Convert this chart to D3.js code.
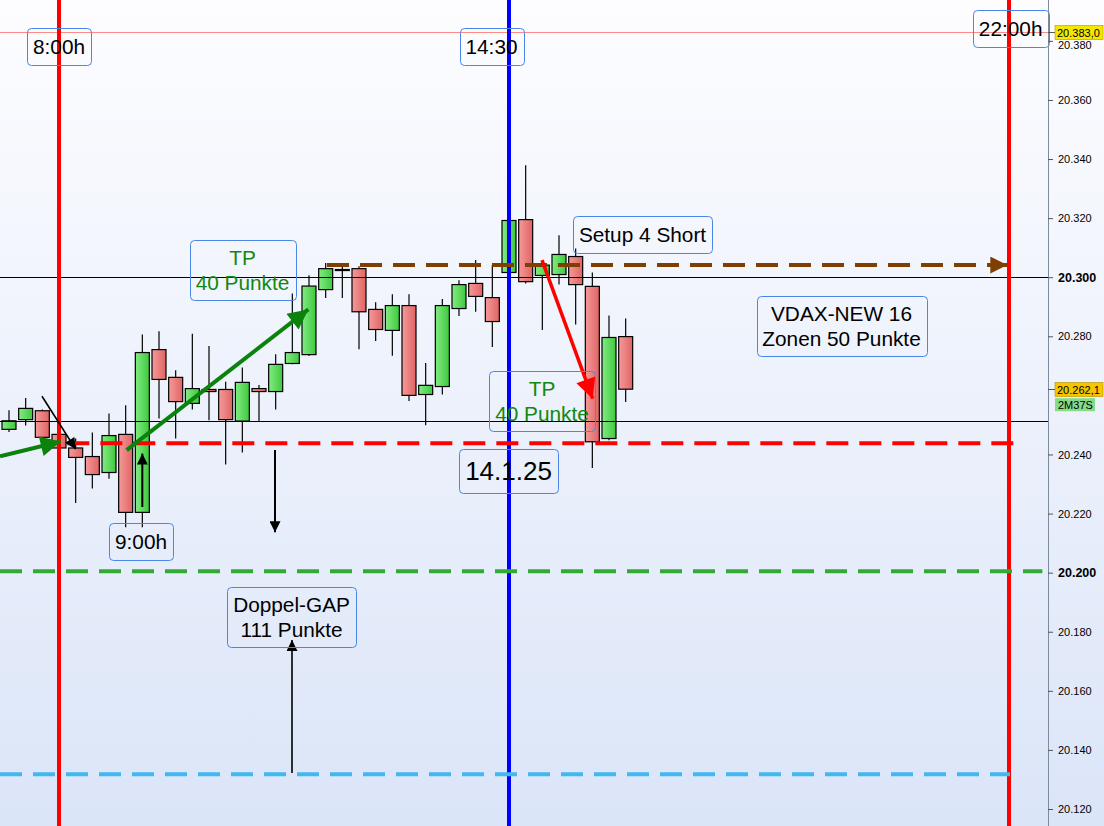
<!DOCTYPE html>
<meta charset="utf-8">
<style>
  body { margin: 0; background: #fff; }
  text { font-family: "Liberation Sans", Arial, sans-serif; }
</style>
<svg id="chart" width="1104" height="826"></svg>
<script src="https://d3js.org/d3.v7.min.js"></script>
<script>
// candle data, one value per bar (bar index = position in array)
var opens  = [20248.5, 20251.8, 20254.8, 20246.8, 20242.2, 20239.3, 20233.9, 20246.8, 20220.4, 20275.5,
              20266.1, 20257.3, 20262.0, 20262.0, 20251.3, 20262.3, 20261.3, 20270.8, 20273.8, 20295.8,
              20302.6, 20302.9, 20289.1, 20282.0, 20290.4, 20260.3, 20263.0, 20289.4, 20297.9, 20293.1,
              20301.6, 20319.5, 20300.6, 20300.9, 20307.0, 20296.9, 20245.4, 20279.9];
var highs  = [20255.0, 20259.1, 20255.2, 20247.2, 20245.4, 20247.4, 20253.9, 20256.7, 20280.6, 20281.7,
              20268.5, 20280.9, 20276.7, 20264.6, 20269.4, 20263.5, 20273.9, 20294.5, 20300.7, 20304.8,
              20304.4, 20303.7, 20291.5, 20294.2, 20294.2, 20271.0, 20292.6, 20299.0, 20305.8, 20304.1,
              20319.6, 20337.9, 20304.5, 20314.2, 20309.7, 20301.6, 20287.0, 20286.0];
var lows   = [20247.6, 20249.8, 20245.5, 20241.8, 20223.6, 20228.5, 20231.8, 20215.4, 20215.4, 20252.2,
              20245.4, 20255.2, 20251.6, 20236.6, 20240.7, 20251.3, 20255.2, 20270.5, 20273.3, 20293.0,
              20293.0, 20275.6, 20278.4, 20273.4, 20258.1, 20249.9, 20260.3, 20286.9, 20288.3, 20276.4,
              20301.2, 20297.9, 20282.1, 20297.5, 20284.0, 20235.4, 20244.8, 20257.8];
var closes = [20251.4, 20255.6, 20245.8, 20242.2, 20239.0, 20233.2, 20246.4, 20220.4, 20274.5, 20265.4,
              20257.9, 20262.3, 20261.3, 20251.8, 20264.4, 20261.3, 20270.5, 20274.5, 20297.0, 20302.9,
              20302.6, 20288.3, 20282.3, 20290.4, 20260.0, 20263.4, 20290.4, 20297.5, 20293.5, 20285.0,
              20319.2, 20298.5, 20304.1, 20307.7, 20297.5, 20244.3, 20279.6, 20262.1];

// price axis (20.260 sits under the last-price tag, so it is not shown)
var yTicks = [20120, 20140, 20160, 20180, 20200, 20220, 20240, 20280, 20300, 20320, 20340, 20360, 20380];
var refPrice = 20383.0;      // thin light red line + yellow tag
var lastPrice = 20262.1;     // last close tag
var timerText = "2M37S";

// session lines (bar index)
var sessionBars = [3, 30, 60];
// thin black horizontal levels
var thinLevels = [20300, 20251.3];
// dashed zones: brown, red, green, light blue
var zonePrices = [20304.1, 20243.8, 20200.5, 20131.8];
var zoneFrom   = [19.08, 3.5, -0.54, -0.54];
var zoneTo     = [59.9, 60.5, 62.0, 60.06];

// arrows: [bar, price] start -> end
var arrowStart = [[-0.54, 20239.4], [1.98, 20259.7], [8, 20222.2], [7.06, 20241.5], [15.96, 20241.5], [16.98, 20132.2], [31.98, 20305.8]];
var arrowEnd   = [[3.1, 20244.4],   [4.0, 20241.8],  [8, 20240.3], [17.96, 20289.1], [15.96, 20213.7], [16.98, 20177.2], [35.02, 20258.9]];

// text boxes: lines, anchor bar, anchor price
var noteLines = [["8:00h"], ["14:30"], ["22:00h"], ["9:00h"], ["14.1.25"], ["TP", "40 Punkte"], ["TP", "40 Punkte"],
                 ["Setup 4 Short"], ["VDAX-NEW 16", "Zonen 50 Punkte"], ["Doppel-GAP", "111 Punkte"]];
var noteBar   = [3, 28.95, 60.1, 7.92, 29.97, 14.01, 31.98, 38.01, 49.95, 16.95];
var notePrice = [20378.2, 20378.2, 20384.3, 20210.5, 20234.4, 20302.4, 20258.2, 20314.4, 20283.4, 20184.9];

var W = 1104, H = 826, plotRight = 1048;
var svg = d3.select("#chart");

var x = d3.scaleLinear().domain([-0.54, 62.34]).range([0, plotRight]);
var y = d3.scaleLinear().domain([20120, 20383]).range([809, 32]);
var deLocale = d3.formatLocale({decimal: ",", thousands: ".", grouping: [3], currency: ["", "€"]});
var fmtTick = deLocale.format(",");
var fmtPrice = deLocale.format(",.1f");
function crisp(v) { return Math.round(v) + 0.5; }

var defs = svg.append("defs");
var bg = defs.append("linearGradient").attr("id", "bg").attr("x1", 0).attr("x2", 0).attr("y1", 0).attr("y2", 1);
bg.append("stop").attr("offset", "0%").attr("stop-color", "#fdfdff");
bg.append("stop").attr("offset", "100%").attr("stop-color", "#dbe5f8");
var gr = defs.append("linearGradient").attr("id", "gRed");
gr.append("stop").attr("offset", "0%").attr("stop-color", "#f59a9a");
gr.append("stop").attr("offset", "100%").attr("stop-color", "#e06464");
var gg = defs.append("linearGradient").attr("id", "gGreen");
gg.append("stop").attr("offset", "0%").attr("stop-color", "#82ec82");
gg.append("stop").attr("offset", "100%").attr("stop-color", "#40c840");
defs.append("clipPath").attr("id", "plotClip").append("rect")
    .attr("x", 0).attr("y", 0).attr("width", plotRight).attr("height", H);

function marker(id, color, len, wid) {
    defs.append("marker").attr("id", id)
        .attr("viewBox", "0 0 10 10").attr("refX", 10).attr("refY", 5)
        .attr("markerUnits", "userSpaceOnUse")
        .attr("markerWidth", len).attr("markerHeight", wid)
        .attr("orient", "auto")
        .append("path").attr("d", "M0,0L10,5L0,10z").attr("fill", color);
}
marker("mGreen", "#0b820b", 22, 20);
marker("mBlack", "#000", 13, 11);
marker("mRed", "#ff0000", 22, 20);
marker("mBrown", "#7f3f00", 19, 17);

svg.append("rect").attr("width", W).attr("height", H).attr("fill", "url(#bg)");

var plot = svg.append("g").attr("clip-path", "url(#plotClip)");

// reference line (thin, light red)
plot.append("line")
    .attr("x1", 0).attr("x2", plotRight)
    .attr("y1", crisp(y(refPrice))).attr("y2", crisp(y(refPrice)))
    .attr("stroke", "#ff8a8a").attr("stroke-width", 1);

// candles
var bars = d3.range(opens.length);
var step = x(1) - x(0);
var bodyW = step * 0.84;
var candle = plot.append("g").selectAll("g").data(bars).enter().append("g");
candle.append("line")
    .attr("x1", i => x(i)).attr("x2", i => x(i))
    .attr("y1", i => y(highs[i])).attr("y2", i => y(lows[i]))
    .attr("stroke", "#000").attr("stroke-width", 1.2);
candle.append("rect")
    .attr("x", i => x(i) - bodyW / 2)
    .attr("width", bodyW)
    .attr("y", i => y(Math.max(opens[i], closes[i])))
    .attr("height", i => Math.max(1, Math.abs(y(opens[i]) - y(closes[i]))))
    .attr("fill", i => closes[i] >= opens[i] ? "url(#gGreen)" : "url(#gRed)")
    .attr("stroke", "#000").attr("stroke-width", 1.2);

// thin black levels
plot.selectAll(".thin").data(thinLevels).enter().append("line")
    .attr("x1", 0).attr("x2", plotRight)
    .attr("y1", d => crisp(y(d))).attr("y2", d => crisp(y(d)))
    .attr("stroke", "#000").attr("stroke-width", 1);

// session verticals
var sessionColors = ["#ff0000", "#0000ff", "#ff0000"];
plot.selectAll(".sess").data(sessionBars).enter().append("line")
    .attr("x1", d => x(d)).attr("x2", d => x(d))
    .attr("y1", 0).attr("y2", H)
    .attr("stroke", (d, i) => sessionColors[i]).attr("stroke-width", 4);

// dashed zones
var zoneColors = ["#7f3f00", "#ff0000", "#33aa33", "#40b8f0"];
plot.selectAll(".zone").data(zonePrices).enter().append("line")
    .attr("x1", (d, i) => x(zoneFrom[i])).attr("x2", (d, i) => x(zoneTo[i]))
    .attr("y1", d => y(d)).attr("y2", d => y(d))
    .attr("stroke", (d, i) => zoneColors[i]).attr("stroke-width", 4)
    .attr("stroke-dasharray", "22,11")
    .attr("marker-end", (d, i) => i === 0 ? "url(#mBrown)" : null);

// arrows
var arrowColors = ["#0b820b", "#000", "#000", "#0b820b", "#000", "#000", "#ff0000"];
var arrowWidths = [4, 1.6, 2, 4, 2, 1.6, 3.5];
var arrowMarks = ["mGreen", "mBlack", "mBlack", "mGreen", "mBlack", "mBlack", "mRed"];
svg.selectAll(".arrow").data(arrowStart).enter().append("line")
    .attr("x1", d => x(d[0])).attr("y1", d => y(d[1]))
    .attr("x2", (d, i) => x(arrowEnd[i][0])).attr("y2", (d, i) => y(arrowEnd[i][1]))
    .attr("stroke", (d, i) => arrowColors[i]).attr("stroke-width", (d, i) => arrowWidths[i])
    .attr("marker-end", (d, i) => "url(#" + arrowMarks[i] + ")");

// note boxes
var noteSize = [20.8, 20.8, 20.8, 20.8, 26, 20.8, 20.8, 20.8, 20.8, 20.8];
var noteColor = ["#000", "#000", "#000", "#000", "#000", "#118811", "#118811", "#000", "#000", "#000"];
noteLines.forEach(function(lines, i) {
    var cx = x(noteBar[i]), cy = y(notePrice[i]);
    var fs = noteSize[i], lh = 25;
    var g = svg.append("g");
    var box = g.append("rect");
    var t = g.append("text").attr("text-anchor", "middle")
        .attr("font-size", fs).attr("fill", noteColor[i]);
    lines.forEach(function(s, k) {
        t.append("tspan").attr("x", cx)
            .attr("y", cy + (k - (lines.length - 1) / 2) * lh + fs * 0.36)
            .text(s);
    });
    var bw = Math.round(t.node().getBBox().width + 12);
    var bh = lines.length === 1 ? (fs > 22 ? 44 : 37) : 60;
    box.attr("x", Math.round(cx - bw / 2) + 0.5).attr("y", Math.round(cy - bh / 2) + 0.5)
        .attr("width", bw).attr("height", bh).attr("rx", 4)
        .attr("fill", "none").attr("stroke", "#4a86e8").attr("stroke-width", 1);
});

// right price axis
svg.append("line").attr("x1", plotRight + 0.5).attr("x2", plotRight + 0.5)
    .attr("y1", 0).attr("y2", H).attr("stroke", "#7d8c9c").attr("stroke-width", 1);
var axis = d3.axisRight(y).tickValues(yTicks).tickSize(5).tickPadding(5).tickFormat(fmtTick);
var ag = svg.append("g").attr("transform", "translate(" + plotRight + ",0)").call(axis);
ag.select(".domain").remove();
ag.selectAll(".tick line").attr("stroke", "#555");
ag.selectAll(".tick text")
    .attr("font-family", "Liberation Sans, Arial, sans-serif")
    .attr("font-size", d => d % 100 === 0 ? 12.5 : 11)
    .attr("font-weight", d => d % 100 === 0 ? "bold" : "normal")
    .attr("fill", "#000");
// the 20.380 label peeks out below the yellow tag, as in the original
ag.selectAll(".tick text").filter(d => d === 20380).attr("dy", "0.7em");

// price tags
function tag(price, text, fill) {
    var ty = Math.round(y(price)) + 0.5;
    svg.append("line").attr("x1", plotRight).attr("x2", plotRight + 7)
        .attr("y1", ty).attr("y2", ty).attr("stroke", "#555");
    svg.append("rect").attr("x", plotRight + 7).attr("y", ty - 7)
        .attr("width", 48).attr("height", 14).attr("fill", fill)
        .attr("stroke", "#b09000").attr("stroke-width", 0.6);
    svg.append("text").attr("x", plotRight + 9).attr("y", ty + 4)
        .attr("font-size", 11).attr("fill", "#000").text(text);
}
tag(refPrice, fmtPrice(refPrice), "#f5e800");
tag(lastPrice, fmtPrice(lastPrice), "#f7c500");
svg.append("rect").attr("x", plotRight + 7).attr("y", y(lastPrice) + 9)
    .attr("width", 40).attr("height", 13).attr("fill", "#86dc86");
svg.append("text").attr("x", plotRight + 10).attr("y", y(lastPrice) + 19.5)
    .attr("font-size", 11).attr("fill", "#000").text(timerText);
</script>
